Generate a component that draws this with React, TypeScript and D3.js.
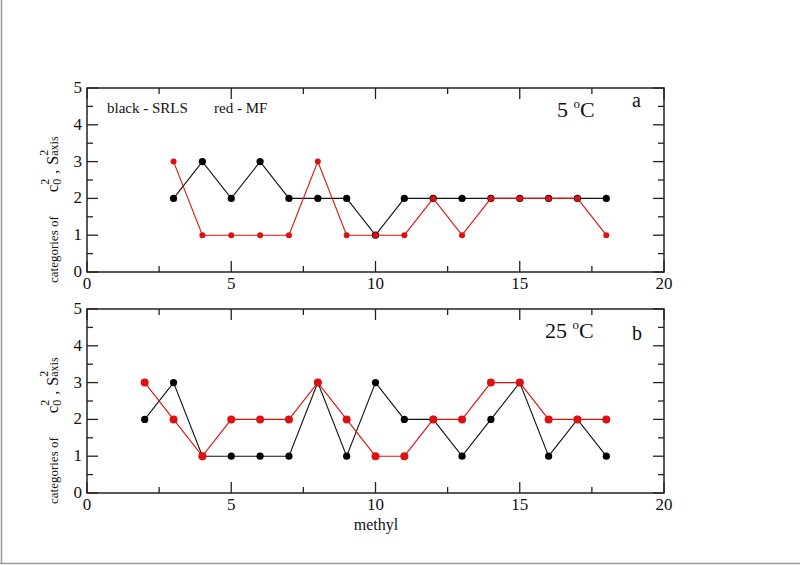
import React from 'react';
import * as d3 from 'd3';

const xA = [3, 4, 5, 6, 7, 8, 9, 10, 11, 12, 13, 14, 15, 16, 17, 18];
const srlsA = [2, 3, 2, 3, 2, 2, 2, 1, 2, 2, 2, 2, 2, 2, 2, 2];
const mfA = [3, 1, 1, 1, 1, 3, 1, 1, 1, 2, 1, 2, 2, 2, 2, 1];

const xB = [2, 3, 4, 5, 6, 7, 8, 9, 10, 11, 12, 13, 14, 15, 16, 17, 18];
const srlsB = [2, 3, 1, 1, 1, 1, 3, 1, 3, 2, 2, 1, 2, 3, 1, 2, 1];
const mfB = [3, 2, 1, 2, 2, 2, 3, 2, 1, 1, 2, 2, 3, 3, 2, 2, 2];

const xTicks = [0, 5, 10, 15, 20];
const xMinor = [2.5, 7.5, 12.5, 17.5];
const yTicks = [0, 1, 2, 3, 4, 5];
const yMinor = [0.5, 1.5, 2.5, 3.5, 4.5];

const SERIF = "Liberation Serif, Times New Roman, serif";
const RED = '#dd1111';
const AX = '#222';

const x = d3.scaleLinear().domain([0, 20]).range([87, 664]);

function Panel({ top, bottom, xs, srls, mf, temp, letter, letterDy, redR }: any) {
  const y = d3.scaleLinear().domain([0, 5]).range([bottom, top]);
  const line = (vals: number[]) =>
    d3.line<number>().x((_, i) => x(xs[i])).y((d) => y(d))(vals) as string;
  const L = 11, m = 6;
  return (
    <g>
      <rect x={x(0)} y={top} width={x(20) - x(0)} height={bottom - top} fill="none" stroke={AX} strokeWidth={1.5} />
      {xTicks.map((t) => (
        <g key={'xt' + t}>
          <line x1={x(t)} x2={x(t)} y1={bottom} y2={bottom - L} stroke={AX} strokeWidth={1.3} />
          <line x1={x(t)} x2={x(t)} y1={top} y2={top + L} stroke={AX} strokeWidth={1.3} />
          <text x={x(t)} y={bottom + 17} textAnchor="middle" fontFamily={SERIF} fontSize={17} fill="#111">{t}</text>
        </g>
      ))}
      {xMinor.map((t) => (
        <g key={'xm' + t}>
          <line x1={x(t)} x2={x(t)} y1={bottom} y2={bottom - m} stroke={AX} strokeWidth={1.3} />
          <line x1={x(t)} x2={x(t)} y1={top} y2={top + m} stroke={AX} strokeWidth={1.3} />
        </g>
      ))}
      {yTicks.map((t) => (
        <g key={'yt' + t}>
          <line x1={x(0)} x2={x(0) + L} y1={y(t)} y2={y(t)} stroke={AX} strokeWidth={1.3} />
          <line x1={x(20)} x2={x(20) - L} y1={y(t)} y2={y(t)} stroke={AX} strokeWidth={1.3} />
          <text x={x(0) - 5} y={y(t) + 5} textAnchor="end" fontFamily={SERIF} fontSize={17} fill="#111">{t}</text>
        </g>
      ))}
      {yMinor.map((t) => (
        <g key={'ym' + t}>
          <line x1={x(0)} x2={x(0) + m} y1={y(t)} y2={y(t)} stroke={AX} strokeWidth={1.3} />
          <line x1={x(20)} x2={x(20) - m} y1={y(t)} y2={y(t)} stroke={AX} strokeWidth={1.3} />
        </g>
      ))}
      <path d={line(srls)} fill="none" stroke="#111" strokeWidth={1.1} />
      {srls.map((v: number, i: number) => (
        <circle key={'s' + i} cx={x(xs[i])} cy={y(v)} r={3.6} fill="#000" />
      ))}
      <path d={line(mf)} fill="none" stroke={RED} strokeWidth={1.1} />
      {mf.map((v: number, i: number) => (
        <circle key={'m' + i} cx={x(xs[i])} cy={y(v)} r={redR} fill={RED} />
      ))}
      <text x={temp[0]} y={top + 29} fontFamily={SERIF} fontSize={22} fill="#111">
        {temp[1]}
        <tspan fontSize={13} dy={-9}>o</tspan>
        <tspan dy={9}>C</tspan>
      </text>
      <text x={632} y={top + letterDy} fontFamily={SERIF} fontSize={20} fill="#111">{letter}</text>
      <text transform={`translate(58,${bottom + 11}) rotate(-90)`} fontFamily={SERIF} fill="#111">
        <tspan fontSize={13}>categories of</tspan>
        <tspan fontSize={17} dx={24}>c</tspan>
        <tspan fontSize={12} dy={-9}>2</tspan>
        <tspan fontSize={12} dx={-6} dy={12}>0</tspan>
        <tspan fontSize={16} dx={5} dy={-3}>,</tspan>
        <tspan fontSize={16} dx={5}>S</tspan>
        <tspan fontSize={12} dy={-10}>2</tspan>
        <tspan fontSize={12} dx={-6} dy={10}>axis</tspan>
      </text>
    </g>
  );
}

export default function App() {
  return (
    <svg width={800} height={565} style={{ position: 'absolute', left: 0, top: 0, background: '#fff' }}>
      <rect x={0} y={0} width={800} height={565} fill="#fff" />
      <line x1={1.5} x2={1.5} y1={0} y2={564} stroke="#999" strokeWidth={1.5} />
      <line x1={0} x2={800} y1={563.5} y2={563.5} stroke="#999" strokeWidth={1.5} />
      <Panel top={88} bottom={272} xs={xA} srls={srlsA} mf={mfA} temp={[557, '5 ']} letter="a" letterDy={19} redR={3} />
      <Panel top={309} bottom={493} xs={xB} srls={srlsB} mf={mfB} temp={[545, '25 ']} letter="b" letterDy={31} redR={4} />
      <text x={107} y={113} fontFamily={SERIF} fontSize={15} fill="#111">black - SRLS</text>
      <text x={214} y={113} fontFamily={SERIF} fontSize={15} fill="#111">red - MF</text>
      <text x={376} y={530} textAnchor="middle" fontFamily={SERIF} fontSize={16} fill="#111">methyl</text>
    </svg>
  );
}
